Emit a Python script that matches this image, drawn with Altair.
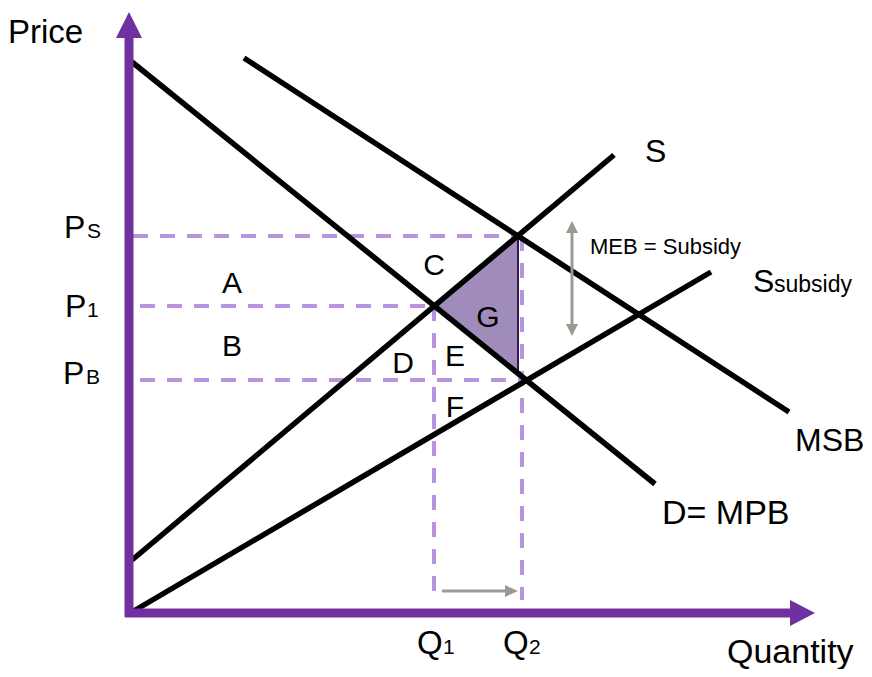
import altair as alt
import pandas as pd

# ---- data (quantity units to the right of the origin, price units above it) ----
curve_names = ["D=MPB", "D=MPB", "S", "S", "MSB", "MSB", "Ssubsidy", "Ssubsidy"]
curve_q = [3, 526, 3, 485, 115, 660, 3, 582]
curve_p = [551, 129, 53, 458, 555, 201, 1, 341]

guide_names = ["Ps", "Ps", "P1", "P1", "PB", "PB", "Q1", "Q1", "Q2", "Q2"]
guide_q = [4, 389, 11, 305, 11, 397, 305, 305, 393, 393]
guide_p = [377, 377, 307, 307, 233, 233, 307, 13, 377, 13]

axis_names = ["Price", "Price", "Quantity", "Quantity"]
axis_q = [0, 0, -4, 662]
axis_p = [-4, 576, 0, 0]

# filled triangle G (welfare gain) : q, lower p, upper p
g_q = [305, 389]
g_lo = [307, 239.5]
g_hi = [307, 377]

# arrow heads pointing right (q, p low, p high)
right_head_id = ["x-axis", "x-axis", "shift", "shift"]
right_head_q = [661, 686, 376, 389]
right_head_lo = [-13, 0, 16, 22]
right_head_hi = [13, 0, 28, 22]

# arrow heads pointing up / down (p, q left, q right)
vert_head_id = ["y-axis", "y-axis", "top", "top", "bottom", "bottom"]
vert_head_p = [575, 601, 380, 392, 289, 277]
vert_head_l = [-13, 0, 437, 443, 437, 443]
vert_head_r = [13, 0, 449, 443, 449, 443]

gray_names = ["shift", "shift", "meb", "meb"]
gray_q = [313, 378, 443, 443]
gray_p = [22, 22, 381, 288]

label_text = ["Price", "Quantity", "P", "S", "P", "1", "P", "B", "S", "MSB", "D= MPB",
              "S", "subsidy", "MEB = Subsidy", "Q", "1", "Q", "2"]
label_q = [-121, 598, -65, -42, -64, -42, -66, -43, 516, 666, 533, 624, 645, 461,
           288, 314, 374, 400]
label_p = [570, -50, 375, 375, 296, 296, 229, 229, 451, 162, 89, 321, 321, 359,
           -41, -41, -41, -41]
label_size = [33, 34, 32, 21, 32, 21, 32, 21, 32, 32, 34, 32, 23, 22, 33, 21, 33, 21]

area_text = ["A", "B", "C", "D", "E", "F", "G"]
area_q = [103, 103, 305, 274, 326, 326, 359]
area_p = [320, 257, 338, 240, 247, 196, 286]

# ---- chart ----
PURPLE = "#7030a0"
DASH = "#b894e0"
GRAY = "#9e9893"
FONT = "Liberation Sans"

xs = alt.Scale(domain=[-121, 735], nice=False, zero=False)
ys = alt.Scale(domain=[-56, 605], nice=False, zero=False)

curves = pd.DataFrame({"name": curve_names, "q": curve_q, "p": curve_p})
guides = pd.DataFrame({"name": guide_names, "q": guide_q, "p": guide_p})
axes = pd.DataFrame({"name": axis_names, "q": axis_q, "p": axis_p})
tri = pd.DataFrame({"q": g_q, "lo": g_lo, "hi": g_hi})
rheads = pd.DataFrame({"id": right_head_id, "q": right_head_q, "lo": right_head_lo, "hi": right_head_hi})
vheads = pd.DataFrame({"id": vert_head_id, "p": vert_head_p, "l": vert_head_l, "r": vert_head_r})
grays = pd.DataFrame({"name": gray_names, "q": gray_q, "p": gray_p})
labels = pd.DataFrame({"t": label_text, "q": label_q, "p": label_p, "s": label_size})
areas = pd.DataFrame({"t": area_text, "q": area_q, "p": area_p})

X = lambda f="q": alt.X(f"{f}:Q", scale=xs, axis=None)
Y = lambda f="p": alt.Y(f"{f}:Q", scale=ys, axis=None)

guide_layer = alt.Chart(guides).mark_line(
    color=DASH, strokeWidth=4, strokeDash=[15, 12], strokeCap="butt"
).encode(x=X(), y=Y(), detail="name:N")

tri_layer = alt.Chart(tri).mark_area(
    color="#a08cbb", opacity=1, stroke="#2e1a4d", strokeWidth=2, orient="vertical"
).encode(x=X(), y=Y("lo"), y2="hi:Q")

curve_layer = alt.Chart(curves).mark_line(
    color="black", strokeWidth=5.5, strokeCap="butt"
).encode(x=X(), y=Y(), detail="name:N")

axis_layer = alt.Chart(axes).mark_line(
    color=PURPLE, strokeWidth=9, strokeCap="butt"
).encode(x=X(), y=Y(), detail="name:N")

gray_layer = alt.Chart(grays).mark_line(
    color=GRAY, strokeWidth=3, strokeCap="butt"
).encode(x=X(), y=Y(), detail="name:N")

rhead_layer = alt.Chart(rheads).mark_area(orient="vertical", opacity=1).encode(
    x=X(), y=Y("lo"), y2="hi:Q", detail="id:N",
    color=alt.Color("id:N", scale=alt.Scale(domain=["x-axis", "shift"], range=[PURPLE, GRAY]), legend=None),
)

vhead_layer = alt.Chart(vheads).mark_area(orient="horizontal", opacity=1).encode(
    y=Y(), x=X("l"), x2="r:Q", detail="id:N",
    color=alt.Color("id:N", scale=alt.Scale(domain=["y-axis", "top", "bottom"], range=[PURPLE, GRAY, GRAY]), legend=None),
)

label_layer = alt.Chart(labels).mark_text(
    align="left", baseline="alphabetic", font=FONT, color="black"
).encode(x=X(), y=Y(), text="t:N", size=alt.Size("s:Q", scale=None))

area_layer = alt.Chart(areas).mark_text(
    align="center", baseline="alphabetic", font=FONT, color="black", fontSize=30
).encode(x=X(), y=Y(), text="t:N")

chart = alt.layer(
    guide_layer, tri_layer, curve_layer, axis_layer, gray_layer,
    rhead_layer, vhead_layer, label_layer, area_layer
).resolve_scale(color="independent").properties(
    width=856, height=661, padding=0,
    autosize=alt.AutoSizeParams(type="none"),
    background="white",
).configure_view(strokeWidth=0)

chart.save("out.html", embed_options={"renderer": "svg", "actions": False})
